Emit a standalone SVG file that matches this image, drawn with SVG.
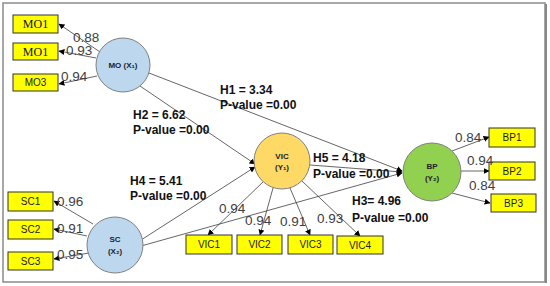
<svg xmlns="http://www.w3.org/2000/svg" width="550" height="286" viewBox="0 0 550 286">
<defs>
<marker id="ah" viewBox="0 0 10 10" refX="9" refY="5" markerWidth="6" markerHeight="6" orient="auto" markerUnits="userSpaceOnUse">
<path d="M0,0 L10,5 L0,10 z" fill="#000"/>
</marker>
<style>
.box{fill:#ffff00;stroke:#333;stroke-width:1}
.bl{font-family:"Liberation Sans",Arial,sans-serif;font-size:10px;fill:#222;text-anchor:middle}
.bls{font-family:"Liberation Serif","Times New Roman",serif;font-size:12px;fill:#111;text-anchor:middle}
.ld{font-family:"Liberation Sans",Arial,sans-serif;font-size:13.5px;fill:#404040}
.h{font-family:"Liberation Sans",Arial,sans-serif;font-size:12px;font-weight:bold;fill:#111}
.cl{font-family:"Liberation Sans","DejaVu Sans",sans-serif;font-size:8px;font-weight:bold;fill:#222;text-anchor:middle}
.cn{stroke:#7f7f7f;stroke-width:1}
.ln{stroke:#555;stroke-width:0.9;fill:none;marker-end:url(#ah)}
</style>
</defs>
<rect x="3" y="3" width="542" height="279" fill="#fff" stroke="#8a8a8a" stroke-width="1.5"/>
<line x1="546" y1="4" x2="546" y2="283" stroke="#888" stroke-width="2"/>

<g id="connectors">
<line class="ln" x1="100" y1="52" x2="59" y2="24"/>
<line class="ln" x1="96" y1="58" x2="59" y2="51"/>
<line class="ln" x1="97" y1="76" x2="59" y2="84"/>
<line class="ln" x1="93" y1="224" x2="54" y2="201"/>
<line class="ln" x1="87" y1="236" x2="54" y2="229"/>
<line class="ln" x1="89" y1="253" x2="54" y2="259"/>
<line class="ln" x1="149" y1="73" x2="402" y2="171"/>
<line class="ln" x1="140" y1="86" x2="255" y2="164"/>
<line class="ln" x1="141" y1="240" x2="255" y2="167"/>
<line class="ln" x1="141" y1="246" x2="402" y2="173"/>
<line class="ln" x1="310" y1="165" x2="402" y2="172"/>
<line class="ln" x1="263" y1="182" x2="208" y2="235"/>
<line class="ln" x1="273" y1="188" x2="260" y2="235"/>
<line class="ln" x1="290" y1="188" x2="310" y2="235"/>
<line class="ln" x1="302" y1="181" x2="360" y2="236"/>
<line class="ln" x1="452" y1="151" x2="489" y2="137"/>
<line class="ln" x1="461" y1="171" x2="489" y2="171"/>
<line class="ln" x1="452" y1="193" x2="490" y2="203"/>
</g>

<g id="MO">
<circle class="cn" cx="123" cy="65" r="27" fill="#bdd7ee"/>
<text class="cl" x="123" y="68">MO (X₁)</text>
</g>
<g id="SC">
<circle class="cn" cx="115" cy="245" r="28" fill="#bdd7ee"/>
<text class="cl" x="115" y="242">SC</text>
<text class="cl" x="115" y="254">(X₂)</text>
</g>
<g id="VIC">
<circle class="cn" cx="282" cy="161" r="28" fill="#ffd966"/>
<text class="cl" x="282" y="159">VIC</text>
<text class="cl" x="282" y="170">(Y₁)</text>
</g>
<g id="BP">
<circle class="cn" cx="432" cy="172" r="29" fill="#92d050"/>
<text class="cl" x="432" y="169">BP</text>
<text class="cl" x="432" y="181">(Y₂)</text>
</g>

<g id="MO1a"><rect class="box" x="13" y="15" width="45" height="18"/><text class="bls" x="35.5" y="28">MO1</text></g>
<g id="MO1b"><rect class="box" x="13" y="43" width="45" height="17"/><text class="bls" x="35.5" y="56">MO1</text></g>
<g id="MO3"><rect class="box" x="13" y="74" width="45" height="17"/><text class="bl" x="35.5" y="86">MO3</text></g>
<g id="SC1"><rect class="box" x="8" y="192" width="45" height="19"/><text class="bl" x="30.5" y="205">SC1</text></g>
<g id="SC2"><rect class="box" x="8" y="220" width="45" height="19"/><text class="bl" x="30.5" y="233">SC2</text></g>
<g id="SC3"><rect class="box" x="8" y="252" width="45" height="18"/><text class="bl" x="30.5" y="265">SC3</text></g>
<g id="VIC1"><rect class="box" x="186" y="235" width="46" height="19"/><text class="bl" x="209" y="248">VIC1</text></g>
<g id="VIC2"><rect class="box" x="237" y="235" width="45" height="19"/><text class="bl" x="259.5" y="248">VIC2</text></g>
<g id="VIC3"><rect class="box" x="288" y="235" width="45" height="19"/><text class="bl" x="310.5" y="248">VIC3</text></g>
<g id="VIC4"><rect class="box" x="337" y="236" width="46" height="18"/><text class="bl" x="360" y="249">VIC4</text></g>
<g id="BP1"><rect class="box" x="489" y="128" width="46" height="19"/><text class="bl" x="512" y="141">BP1</text></g>
<g id="BP2"><rect class="box" x="489" y="162" width="46" height="18"/><text class="bl" x="512" y="175">BP2</text></g>
<g id="BP3"><rect class="box" x="491" y="194" width="45" height="18"/><text class="bl" x="513.5" y="207">BP3</text></g>

<g id="loadings">
<text class="ld" x="73" y="42">0.88</text>
<text class="ld" x="66" y="55">0.93</text>
<text class="ld" x="61" y="81">0.94</text>
<text class="ld" x="57" y="206">0.96</text>
<text class="ld" x="57" y="233">0.91</text>
<text class="ld" x="57" y="259">0.95</text>
<text class="ld" x="219" y="213">0.94</text>
<text class="ld" x="245" y="225">0.94</text>
<text class="ld" x="280" y="226">0.91</text>
<text class="ld" x="317" y="223">0.93</text>
<text class="ld" x="455" y="142">0.84</text>
<text class="ld" x="467" y="165">0.94</text>
<text class="ld" x="469" y="190">0.84</text>
</g>

<g id="hypotheses">
<text class="h" x="220" y="94">H1 = 3.34</text>
<text class="h" x="220" y="109">P-value =0.00</text>
<text class="h" x="133" y="119">H2 = 6.62</text>
<text class="h" x="133" y="134">P-value =0.00</text>
<text class="h" x="130" y="185">H4 = 5.41</text>
<text class="h" x="130" y="200">P-value =0.00</text>
<text class="h" x="313" y="162">H5 = 4.18</text>
<text class="h" x="313" y="178">P-value =0.00</text>
<text class="h" x="352" y="205">H3= 4.96</text>
<text class="h" x="352" y="222">P-value =0.00</text>
</g>
</svg>
